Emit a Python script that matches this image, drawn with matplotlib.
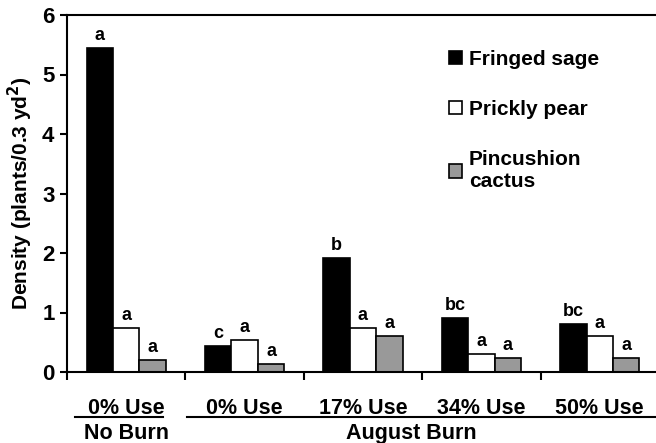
import numpy as np
import matplotlib.pyplot as plt

plt.rcParams['font.family'] = ['Liberation Sans', 'DejaVu Sans']
plt.rcParams['font.weight'] = 'bold'

uses = ['0% Use', '0% Use', '17% Use', '34% Use', '50% Use']
species = ['Fringed sage', 'Prickly pear', 'Pincushion\ncactus']
sage = [5.45, 0.44, 1.91, 0.90, 0.80]
pear = [0.74, 0.54, 0.74, 0.30, 0.60]
pincushion = [0.20, 0.13, 0.60, 0.23, 0.23]
sage_letters = ['a', 'c', 'b', 'bc', 'bc']
pear_letters = ['a', 'a', 'a', 'a', 'a']
pinc_letters = ['a', 'a', 'a', 'a', 'a']

colors = ['black', 'white', '#999999']

fig = plt.figure(figsize=(6.56, 4.43), dpi=100)
ax = fig.add_axes([67/656, 71/443, 592/656, 357/443])

x = np.arange(len(uses)) + 0.5
w = 0.223
series = [sage, pear, pincushion]
letters = [sage_letters, pear_letters, pinc_letters]
for k in range(3):
    pos = x + (k - 1) * w
    ax.bar(pos, series[k], width=w, color=colors[k], edgecolor='black',
           linewidth=1.2, label=species[k])
    for xi, v, t in zip(pos, series[k], letters[k]):
        ax.text(xi, v + 0.07, t, ha='center', va='bottom', fontsize=13,
                fontweight='bold')

ax.set_xlim(0, 5)
ax.set_ylim(0, 6)
ax.set_yticks(range(7))
ax.set_xticks(range(6))
ax.set_xticklabels([])
ax.tick_params(axis='y', labelsize=16, width=1.5, length=5, direction='out', pad=4)
ax.tick_params(axis='x', width=1.5, length=6, direction='out')
for s in ['left', 'bottom', 'top']:
    ax.spines[s].set_linewidth(1.5)
ax.spines['right'].set_visible(False)
ax.set_ylabel(r'Density (plants/0.3 yd$^{\mathbf{2}}$)', fontsize=15,
              fontweight='bold', labelpad=5)

# category labels below the axis
tr = ax.get_xaxis_transform()
for xi, u in zip(x, uses):
    ax.text(xi, -0.101, u, transform=tr, ha='center', va='center',
            fontsize=15.5, fontweight='bold', clip_on=False)
ax.plot([0.07, 0.81], [-0.125, -0.125], color='black', lw=1.5,
        transform=tr, clip_on=False)
ax.plot([1.01, 4.98], [-0.125, -0.125], color='black', lw=1.5,
        transform=tr, clip_on=False)
ax.text(0.5, -0.171, 'No Burn', transform=tr, ha='center', va='center',
        fontsize=15.5, fontweight='bold', clip_on=False)
ax.text(2.91, -0.171, 'August Burn', transform=tr, ha='center', va='center',
        fontsize=15.5, fontweight='bold', clip_on=False)

leg = ax.legend(loc='upper left', bbox_to_anchor=(0.613, 0.955), frameon=False,
                handlelength=0.62, handleheight=0.62,
                handletextpad=0.35, labelspacing=1.5,
                prop={'weight': 'bold', 'size': 15})

fig.savefig('out.png', dpi=100)
